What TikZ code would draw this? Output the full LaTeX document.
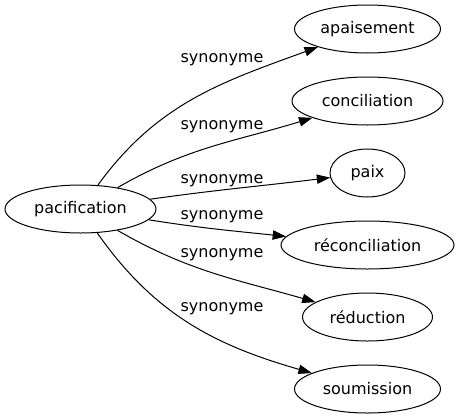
\documentclass[tikz,border=0pt]{standalone}
\usepackage{fontspec}
\setmainfont{DejaVu Sans}
\usetikzlibrary{shapes.geometric,arrows.meta}

\begin{document}
\begin{tikzpicture}[x=0.75pt,y=0.75pt,font=\fontsize{12}{14}\selectfont,
  word/.style={draw,ellipse,inner sep=0pt,minimum height=36pt,line width=0.75pt},
  syn/.style={-{Triangle[length=10pt,width=7pt]},line width=0.75pt},
  tag/.style={anchor=base,inner sep=0pt}]
\useasboundingbox (0,0) rectangle (459,419);

\node[word,minimum width=113.25pt] (pacification) at (80.5,210) {pacification};
\node[word,minimum width=109.5pt] (apaisement) at (367.5,390) {apaisement};
\node[word,minimum width=113.25pt] (conciliation) at (367.5,318) {conciliation};
\node[word,minimum width=56.25pt] (paix) at (367.5,246) {paix};
\node[word,minimum width=129.75pt] (reconciliation) at (367.5,174) {réconciliation};
\node[word,minimum width=97.5pt] (reduction) at (367.5,102) {réduction};
\node[word,minimum width=109.5pt] (soumission) at (367.5,30) {soumission};

\node[tag] (s1) at (222,357) {synonyme};
\node[tag] (s2) at (222,290) {synonyme};
\node[tag] (s3) at (222,236) {synonyme};
\node[tag] (s4) at (222,200) {synonyme};
\node[tag] (s5) at (222,162) {synonyme};
\node[tag] (s6) at (222,108) {synonyme};

\draw[syn] (pacification) to[out=54,in=200] (apaisement);
\draw[syn] (pacification) to[out=30,in=197] (conciliation);
\draw[syn] (pacification) to[out=8,in=187] (paix);
\draw[syn] (pacification) to[out=-9,in=174] (reconciliation);
\draw[syn] (pacification) to[out=-30,in=164] (reduction);
\draw[syn] (pacification) to[out=-55,in=164] (soumission);
\end{tikzpicture}
\end{document}
